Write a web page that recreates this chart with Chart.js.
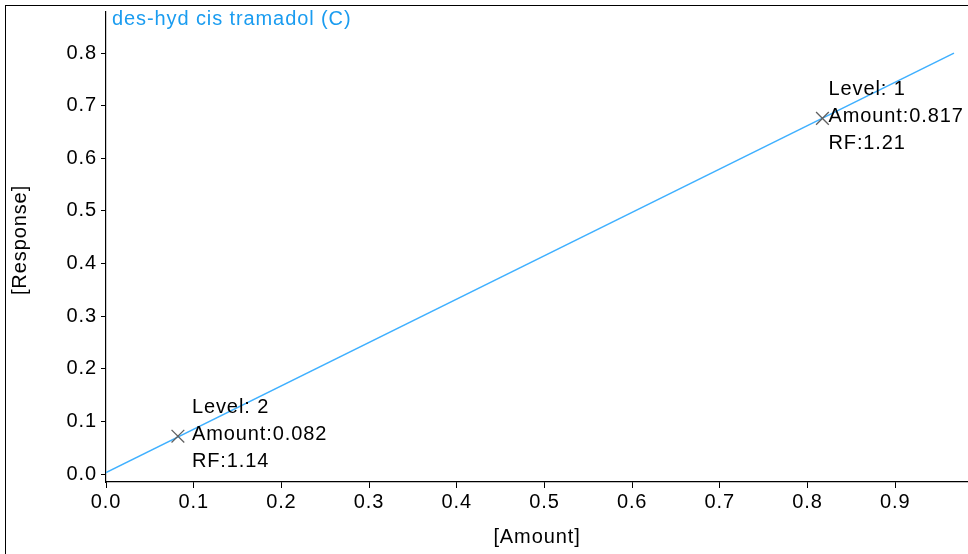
<!DOCTYPE html>
<html>
<head>
<meta charset="utf-8">
<script src="https://cdn.jsdelivr.net/npm/chart.js@4.4.0/dist/chart.umd.min.js"></script>
<style>
  html, body { margin: 0; padding: 0; background: #fff; }
  #wrap { position: relative; width: 968px; height: 554px; }
  #frame { position: absolute; left: 5px; top: 5px; right: 0; bottom: 0;
           border-top: 1.5px solid #000; border-left: 1.5px solid #000; pointer-events: none; }
</style>
</head>
<body>
<div id="wrap">
  <canvas id="myChart" width="968" height="554"></canvas>
  <div id="frame"></div>
</div>
<script>
// calibration levels
var levels = ["1", "2"];
var amounts = [0.817, 0.082];
var responses = [0.676, 0.072];
var rfs = ["1.21", "1.14"];

// fitted calibration line
var lineX = [0.0, 0.967];
var lineY = [0.003, 0.800];

var compound = "des-hyd cis tramadol (C)";
var xTitle = "[Amount]";
var yTitle = "[Response]";
var xTicks = [0.0, 0.1, 0.2, 0.3, 0.4, 0.5, 0.6, 0.7, 0.8, 0.9];
var yTicks = [0.0, 0.1, 0.2, 0.3, 0.4, 0.5, 0.6, 0.7, 0.8];

var FONT = "'Liberation Sans', Arial, sans-serif";
var SPACING = "0.9px";

var points = amounts.map(function (a, i) {
  return { x: a, y: responses[i] };
});
var linePts = lineX.map(function (x, i) {
  return { x: x, y: lineY[i] };
});

var textPlugin = {
  id: "textPlugin",
  beforeDraw: function (chart) {
    chart.ctx.letterSpacing = SPACING;
  },
  afterDraw: function (chart) {
    var ctx = chart.ctx;
    var area = chart.chartArea;
    var xs = chart.scales.x;
    var ys = chart.scales.y;
    var dx = [6, 14];
    ctx.save();
    ctx.letterSpacing = SPACING;
    ctx.font = "20px " + FONT;
    ctx.textBaseline = "middle";

    // compound name
    ctx.fillStyle = "#1a9cf0";
    ctx.textAlign = "left";
    ctx.fillText(compound, area.left + 6, 19);

    // level labels
    ctx.fillStyle = "#000";
    for (var i = 0; i < levels.length; i++) {
      var px = xs.getPixelForValue(amounts[i]) + dx[i];
      var py = ys.getPixelForValue(responses[i]) - 1.5;
      ctx.fillText("Level: " + levels[i], px, py - 27);
      ctx.fillText("Amount:" + amounts[i], px, py);
      ctx.fillText("RF:" + rfs[i], px, py + 27);
    }

    // axis titles
    ctx.textAlign = "center";
    ctx.fillText(xTitle, 537, 537);
    ctx.translate(20, 240);
    ctx.rotate(-Math.PI / 2);
    ctx.fillText(yTitle, 0, 0);
    ctx.restore();
  },
};

const ctx = document.getElementById("myChart");

new Chart(ctx, {
  type: "scatter",
  data: {
    datasets: [
      {
        label: "Levels",
        data: points,
        pointStyle: "crossRot",
        pointRadius: 9,
        pointHoverRadius: 9,
        borderColor: "#606060",
        backgroundColor: "#606060",
        borderWidth: 1.3,
        order: 0,
      },
      {
        label: "Calibration",
        data: linePts,
        showLine: true,
        pointRadius: 0,
        borderColor: "#3fb0ff",
        borderWidth: 1.5,
        fill: false,
        order: 1,
      },
    ],
  },
  options: {
    responsive: false,
    animation: false,
    events: [],
    layout: { autoPadding: false, padding: { top: 12, right: 0, left: 0, bottom: 0 } },
    plugins: {
      legend: { display: false },
      tooltip: { enabled: false },
    },
    scales: {
      x: {
        type: "linear",
        min: 0,
        max: 0.983,
        afterFit: function (scale) {
          scale.height = 72;
          scale.paddingLeft = 0;
          scale.paddingRight = 0;
        },
        afterBuildTicks: function (scale) {
          scale.ticks = xTicks.map(function (v) {
            return { value: v };
          });
        },
        ticks: {
          color: "#000",
          padding: 2,
          maxRotation: 0,
          font: { family: FONT, size: 20 },
          callback: function (v) {
            return Number(v).toFixed(1);
          },
        },
        grid: {
          display: true,
          drawOnChartArea: false,
          drawTicks: true,
          tickLength: 6,
          color: "#000",
        },
        border: { display: true, color: "#000", width: 1.2 },
      },
      y: {
        type: "linear",
        min: -0.015,
        max: 0.878,
        afterFit: function (scale) {
          scale.width = 106;
          scale.paddingTop = 0;
          scale.paddingBottom = 0;
        },
        afterBuildTicks: function (scale) {
          scale.ticks = yTicks.map(function (v) {
            return { value: v };
          });
        },
        ticks: {
          color: "#000",
          padding: 4,
          font: { family: FONT, size: 20 },
          callback: function (v) {
            return Number(v).toFixed(1);
          },
        },
        grid: {
          display: true,
          drawOnChartArea: false,
          drawTicks: true,
          tickLength: 5,
          color: "#000",
        },
        border: { display: true, color: "#000", width: 1.2 },
      },
    },
  },
  plugins: [textPlugin],
});
</script>
</body>
</html>
